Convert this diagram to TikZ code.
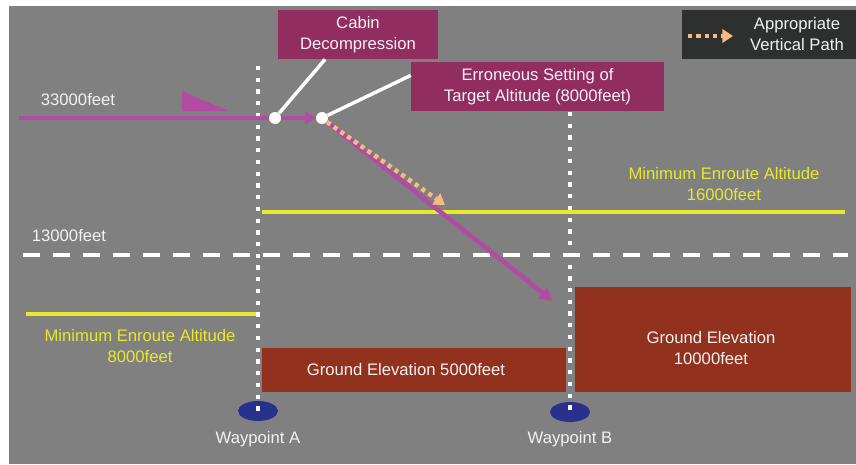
\documentclass[tikz,border=0pt]{standalone}
\usepackage{fontspec}
\setmainfont{Liberation Sans}
\usepackage{xcolor}
\usepackage{tikz}
\usetikzlibrary{positioning,arrows.meta,shapes.geometric}
\definecolor{bggray}{RGB}{128,128,128}
\definecolor{boxmag}{RGB}{146,45,96}
\definecolor{pathmag}{RGB}{178,76,162}
\definecolor{gndbrown}{RGB}{146,50,30}
\definecolor{meayellow}{RGB}{232,232,44}
\definecolor{okorange}{RGB}{245,186,126}
\definecolor{wpnavy}{RGB}{40,50,140}
\definecolor{legendbg}{RGB}{46,48,47}
\definecolor{txtwhite}{RGB}{242,242,242}

\begin{document}
\begin{tikzpicture}[x=0.75pt, y=-0.75pt,
                every node/.append style = {font=\fontsize{12.5}{15.5}\selectfont, text=txtwhite, align=center, inner sep=0pt},
                labelbox/.style = {fill=boxmag, minimum height=36.75pt},
                groundbox/.style = {fill=gndbrown},
                ytext/.style = {text=meayellow},
                wpmark/.style = {ellipse, fill=wpnavy, minimum width=30pt, minimum height=15pt},
                wdot/.style = {circle, fill=white, minimum size=9pt},
                wpdots/.style = {white, line width=3.2pt, dash pattern=on 3.2pt off 5.6pt},
                altdash/.style = {white, line width=3.5pt, dash pattern=on 12.5pt off 10pt},
                mealine/.style = {meayellow, line width=3pt},
                flight/.style = {pathmag, line width=3.4pt},
                okpath/.style = {okorange, line width=3.4pt, dash pattern=on 3.2pt off 3pt,
                                 -{Triangle[length=8pt,width=10pt]}},
                callout/.style = {white, line width=2.6pt}]
            \path[use as bounding box] (0,0) rectangle (856,464);
            \fill[bggray] (9,6) rectangle (856,464);

            \node[groundbox, minimum width=228pt, minimum height=33pt] (gnd5) at (414,370) {};
            \node (gnd5txt) at (406,370) {Ground Elevation 5000feet};
            \node[groundbox, minimum width=207pt, minimum height=78.75pt] (gnd10) at (713,339.5) {};
            \node (gnd10txt) at (711,348) {Ground Elevation\\10000feet};

            \draw[altdash] (23,255) -- (848,255);
            \node (alt13) at (69,236) {13000feet};

            \draw[mealine] (26,314) -- (256,314);
            \node[ytext] (mea8) at (140,346) {Minimum Enroute Altitude\\8000feet};
            \draw[mealine] (262,212) -- (845,212);
            \node[ytext] (mea16) at (724,184) {Minimum Enroute Altitude\\16000feet};

            \node[wpmark] (wpa) at (258,411) {};
            \node[wpmark] (wpb) at (570,412) {};
            \draw[wpdots] (258,66) -- (wpa.center);
            \draw[wpdots] (570,112) -- (wpb.center);
            \node (wpalbl) at (258,439) {Waypoint A};
            \node (wpblbl) at (570,439) {Waypoint B};

            \node[labelbox, minimum width=120pt] (cabin) at (358,34.5) {Cabin\\Decompression};
            \node[labelbox, minimum width=189.75pt] (err) at (537.5,86.5) {Erroneous Setting of\\Target Altitude (8000feet)};

            \node[fill=legendbg, minimum width=130.5pt, minimum height=36.75pt] (legend) at (769,34.5) {};
            \coordinate (lgs) at (688,36);
            \coordinate (lge) at (733,36);
            \draw[okpath] (lgs) -- (lge);
            \node (legtxt) at (797,34) {Appropriate\\Vertical Path};

            \node (alt33) at (78,100) {33000feet};
            \fill[pathmag] (182,91) -- (182,111) -- (228,111) -- cycle;
            \coordinate (start) at (19,118);
            \coordinate (p1) at (275,118);
            \coordinate (p2) at (322,118);
            \coordinate (dive) at (553,301);
            \coordinate (okend) at (445,205);
            \draw[flight] (start) -- (p1);
            \draw[flight, -{Triangle[length=8pt,width=9.5pt]}, shorten >=4.5pt] (p1) -- (p2);
            \draw[flight, -{Triangle[length=10pt,width=10pt]}] (p2) -- (dive);
            \draw[okpath] ([shift={(5,4)}]p2) -- (okend);

            \node[wdot] (c1) at (p1) {};
            \node[wdot] (c2) at (p2) {};
            \draw[callout] (c1) -- (cabin.217);
            \draw[callout] (c2) -- (err.175);
            \end{tikzpicture}
\end{document}
